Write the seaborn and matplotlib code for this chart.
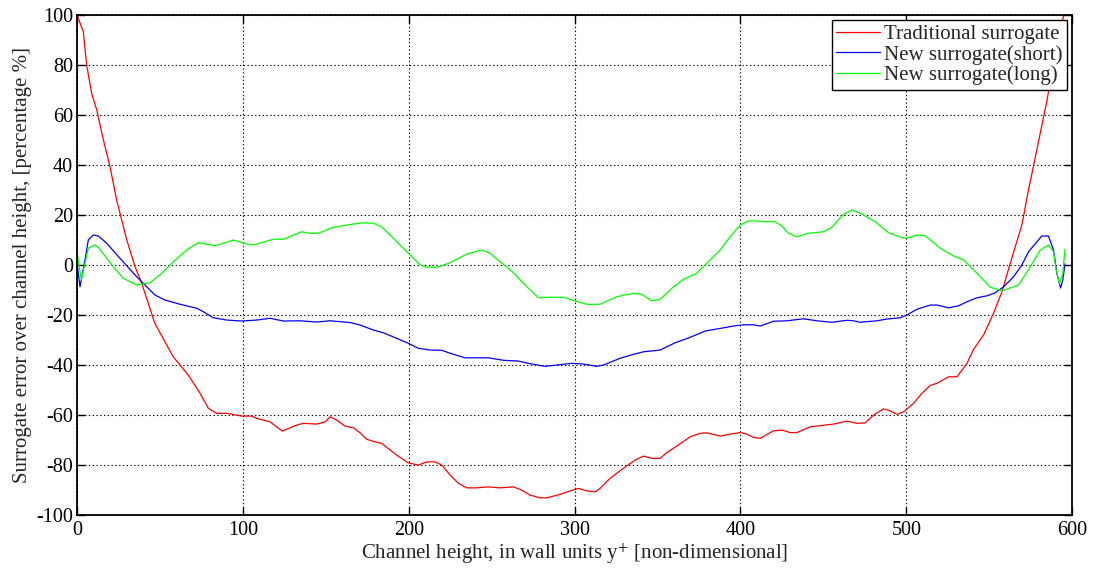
import matplotlib
matplotlib.use("Agg")
import matplotlib.pyplot as plt
import seaborn as sns
import pandas as pd

# Surrogate error profiles across the channel (wall units y+)
trad_x = [0, 3.8, 5.8, 8.8, 11.9, 15.9, 19.9, 23.9, 30, 35, 39, 46.9, 58, 67.1, 74.2, 79.2,
          84.2, 90.3, 99.3, 105.3, 108.3, 116.4, 123.8, 132.5, 136.5, 144.6, 149.6, 152.6,
          156.6, 161.6, 166.7, 170.7, 174.7, 179.7, 183.7, 192.7, 199.8, 205.8, 210.9, 215.9,
          219.9, 225, 230, 235, 241, 248, 255.1, 263.1, 268.1, 273.1, 279.2, 283.2, 291.3,
          297.3, 302.3, 307.3, 312.4, 315.4, 321.4, 329.4, 336.5, 341.5, 346.5, 351.6, 355.6,
          361.6, 369.7, 375.7, 379.7, 387.8, 393.8, 399.8, 403.8, 407.8, 411.9, 419.9, 425,
          430, 434, 442.1, 456.2, 464.2, 470.2, 475.3, 480.3, 486.3, 490.3, 494.4, 498.4,
          504.4, 509.5, 514.5, 518.5, 525.5, 530.6, 536.6, 540.6, 546.6, 552.6, 557.7, 562.7,
          569.7, 573.7, 578.7, 584.9, 590.9, 595.7]
trad_y = [100, 93.3, 80, 68.7, 62, 50, 39.3, 26, 10, -0.7, -7.3, -23.3, -36.7, -44, -51.3, -57.3,
          -59.3, -59.3, -60.4, -60.4, -61.3, -62.7, -66.4, -64, -63.3, -63.6, -62.7, -60.7,
          -62, -64.4, -65.1, -67.1, -69.7, -70.7, -71.3, -76, -79.1, -80, -78.7, -78.7,
          -80, -84, -87.3, -89.1, -89.1, -88.7, -89.1, -88.7, -90, -92, -93.1, -93.1, -91.7,
          -90.3, -89.3, -90.3, -90.7, -89.3, -85.3, -81.3, -78, -76.4, -77.3, -77.3, -75,
          -72.4, -68.7, -67.3, -67.1, -68.4, -67.6, -67, -67.6, -68.9, -69.3, -66.3, -66,
          -67, -67, -64.7, -63.6, -62.4, -63.3, -63.1, -60, -57.5, -58.3, -59.7, -58.7,
          -55.3, -51.3, -48.1, -47.3, -44.7, -44.7, -39.3, -33.7, -28, -19.3, -10.7, 0.7,
          16, 30, 46, 66, 88.7, 102]

short_x = [0, 1.8, 4.8, 6.8, 9.8, 12.9, 17.9, 25.9, 36, 47, 53, 62.1, 72.2, 76.2, 82.2, 90.3,
           99.3, 108.4, 116.4, 124.4, 134.5, 144.6, 152.6, 164.6, 170.7, 178.7, 184.7, 192.7,
           199.8, 205.8, 212.9, 219.9, 226.9, 234, 248, 257.1, 266.1, 274.2, 282.2, 289.2,
           298.3, 305.3, 313.4, 317.4, 327.4, 335.5, 341.5, 351.6, 360.6, 369.7, 378.7, 385.7,
           395.8, 401.8, 407.8, 411.9, 419.9, 428, 438, 446.1, 455.1, 464.2, 468.2, 472.2,
           482.3, 488.3, 496.4, 500.4, 506.4, 514.5, 518.5, 525.5, 531.6, 536.6, 542.6, 548.7,
           553.7, 558.7, 564.7, 569.7, 573.7, 581.7, 585.7, 588.8, 590.8, 593, 594.4, 595.7]
short_y = [0.7, -8.7, 2, 10, 12, 11.6, 8.7, 2.7, -4.7, -12, -14, -15.7, -17.3, -18.7, -21.1, -22,
           -22.4, -22, -21.3, -22.4, -22.3, -22.8, -22.3, -23, -24, -26, -27.1, -29.3,
           -31.3, -33.3, -34, -34.1, -35.7, -37.1, -37.1, -38.1, -38.4, -39.6, -40.5, -40,
           -39.3, -39.6, -40.5, -40, -37.3, -35.7, -34.7, -34, -31.1, -28.9, -26.4, -25.6,
           -24.4, -23.9, -23.9, -24.4, -22.5, -22.3, -21.5, -22.3, -22.9, -22.1, -22.3, -22.9,
           -22.3, -21.6, -21.1, -20, -17.7, -16, -16, -17.1, -16.3, -14.7, -13.1, -12.3,
           -11.1, -8.7, -4.7, 0, 5.3, 11.6, 11.6, 6, -3.3, -9.2, -6, 0.5]

long_x = [0, 2.6, 6.8, 10.5, 12.9, 17.9, 21.9, 27.9, 36, 44, 51.1, 58.1, 66.1, 73.2, 83.2, 94.3,
          104.3, 108.3, 118.4, 124.4, 135.4, 140.5, 145.5, 153.6, 162.6, 172.7, 178.7, 183.7,
          190.7, 198.8, 207, 211, 217, 225, 235, 244, 249.1, 256.2, 263.2, 270.2, 278.2,
          285.3, 293.3, 298.3, 307.3, 315.4, 325.4, 335.5, 340.5, 346.5, 351.6, 358.7, 365.6,
          373.7, 379.7, 387.8, 393.8, 399.8, 404.8, 407.8, 413.9, 420.9, 425, 429, 434,
          441.1, 450.1, 455.1, 462.2, 467.2, 472.2, 481.3, 489.3, 498.4, 502.4, 506.4, 511.5,
          520.5, 528.5, 534.6, 542.6, 550.7, 557.7, 567.7, 574.8, 580.8, 585.8, 588.8, 590.4,
          592.4, 594.4, 595.7]
long_y = [5.3, -6, 6.7, 8, 7.1, 2.7, -0.7, -5.3, -8, -7.1, -3.3, 1.3, 6, 8.9, 7.7, 10,
          8, 8.4, 10.3, 10.3, 13.3, 12.7, 12.7, 14.9, 16, 16.9, 16.7, 15.3,
          10.7, 5.3, 0, -0.9, -0.9, 0.9, 4.4, 6, 4.7, 0.7, -3.1, -8, -13.1,
          -12.9, -12.9, -14, -15.7, -15.7, -12.7, -11.3, -11.7, -14.3, -13.7, -9.3, -5.7,
          -3.3, 0.7, 6, 11.3, 16, 17.6, 17.7, 17.3, 17.3, 15.6, 12.7, 11.3,
          12.7, 13.3, 15.1, 20.3, 22, 20.7, 17.3, 12.9, 10.7, 11.1, 12, 11.7,
          6.7, 3.6, 2, -3.3, -8.9, -10.3, -8, -0.7, 6, 8, 5.3, -2,
          -7.5, -3.3, 6.3]

series_names = ["Traditional surrogate", "New surrogate(short)", "New surrogate(long)"]
series_colors = ["#FF0000", "#0000FF", "#00FF00"]

x_ticks = [0, 100, 200, 300, 400, 500, 600]
y_ticks = [-100, -80, -60, -40, -20, 0, 20, 40, 60, 80, 100]

sns.set_style("ticks")
plt.rcParams["font.family"] = ["Liberation Serif", "DejaVu Serif"]
plt.rcParams["mathtext.fontset"] = "stix"
plt.rcParams["axes.unicode_minus"] = False

frames = []
for name, xs, ys in zip(series_names,
                        [trad_x, short_x, long_x],
                        [trad_y, short_y, long_y]):
    frames.append(pd.DataFrame({"y_plus": xs, "error": ys, "series": name}))
df = pd.concat(frames, ignore_index=True)

fig = plt.figure(figsize=(10.94, 5.73), dpi=100)
ax = fig.add_axes([0.0704, 0.101, 0.9096, 0.873])

sns.lineplot(data=df, x="y_plus", y="error", hue="series", hue_order=series_names,
             palette=series_colors, estimator=None, sort=False, linewidth=0.9, ax=ax)

ax.set_xlim(0, 600)
ax.set_ylim(-100, 100)
ax.set_xticks(x_ticks)
ax.set_yticks(y_ticks)
ax.tick_params(direction="in", top=True, right=True, length=6, width=1.0,
               labelsize=14.5, colors="black")
ax.tick_params(axis="x", pad=4)
ax.tick_params(axis="y", pad=3)
ax.grid(True, color="black", linestyle=(0, (1.2, 2.2)), linewidth=0.8)
for sp in ax.spines.values():
    sp.set_linewidth(1.3)
    sp.set_color("black")

ax.set_xlabel(r"Channel height, in wall units y$^{+}$ [non-dimensional]", fontsize=15, labelpad=1)
ax.set_ylabel("Surrogate error over channel height, [percentage %]", fontsize=15, labelpad=3)

leg = ax.legend(loc="upper right", fontsize=15, frameon=True, fancybox=False,
                edgecolor="black", framealpha=1, handlelength=2.1, borderaxespad=0.25,
                borderpad=0.2, labelspacing=0.05, handletextpad=0.2)
leg.get_frame().set_linewidth(1.0)
leg.set_title(None)

fig.savefig("out.png", dpi=100)
